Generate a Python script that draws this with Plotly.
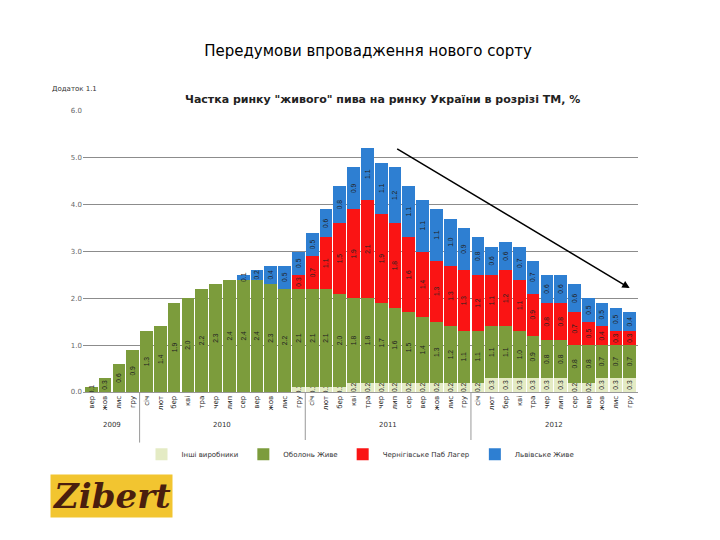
import plotly.graph_objects as go

year_names = ["2009", "2010", "2011", "2012"]
year_lengths = [4, 12, 12, 12]
mon12 = ["січ", "лют", "бер", "кві", "тра", "чер", "лип", "сер", "вер", "жов", "лис", "гру"]
months = ["вер", "жов", "лис", "гру"] + mon12 * 3

other = [0.0, 0.0, 0.0, 0.0,
         0.0, 0.0, 0.0, 0.0, 0.0, 0.0, 0.0, 0.0, 0.0, 0.0, 0.0, 0.1,
         0.1, 0.1, 0.1, 0.2, 0.2, 0.2, 0.2, 0.2, 0.2, 0.2, 0.2, 0.2,
         0.2, 0.3, 0.3, 0.3, 0.3, 0.3, 0.3, 0.2, 0.2, 0.3, 0.3, 0.3]
obolon = [0.1, 0.3, 0.6, 0.9,
          1.3, 1.4, 1.9, 2.0, 2.2, 2.3, 2.4, 2.4, 2.4, 2.3, 2.2, 2.1,
          2.1, 2.1, 2.0, 1.8, 1.8, 1.7, 1.6, 1.5, 1.4, 1.3, 1.2, 1.1,
          1.1, 1.1, 1.1, 1.0, 0.9, 0.8, 0.8, 0.8, 0.8, 0.7, 0.7, 0.7]
cherni = [0, 0, 0, 0,
          0, 0, 0, 0, 0, 0, 0, 0, 0, 0, 0.0, 0.3,
          0.7, 1.1, 1.5, 1.9, 2.1, 1.9, 1.8, 1.6, 1.4, 1.3, 1.3, 1.3,
          1.2, 1.1, 1.2, 1.1, 0.9, 0.8, 0.8, 0.7, 0.5, 0.4, 0.3, 0.3]
lviv = [0, 0, 0, 0,
        0, 0, 0, 0, 0, 0, 0, 0.1, 0.2, 0.4, 0.5, 0.5,
        0.5, 0.6, 0.8, 0.9, 1.1, 1.1, 1.2, 1.1, 1.1, 1.1, 1.0, 0.9,
        0.8, 0.6, 0.6, 0.7, 0.7, 0.6, 0.6, 0.6, 0.5, 0.5, 0.5, 0.4]

series = [
    ("Інші виробники", other, "#e4ebc4"),
    ("Оболонь Живе", obolon, "#7c9c3c"),
    ("Чернігівське Паб Лагер", cherni, "#fa1414"),
    ("Львівське Живе", lviv, "#2e7fd2"),
]

xs = list(range(len(months)))

fig = go.Figure()
for name, vals, col in series:
    fig.add_trace(go.Bar(
        x=xs, y=vals, name=name,
        marker=dict(color=col, line=dict(width=0)),
        texttemplate="%{y:.1f}", textposition="inside", textangle=-90,
        insidetextanchor="middle",
        textfont=dict(size=7, color="#222222", family="Arial"),
    ))

fig.update_layout(
    barmode="stack", bargap=0.08,
    width=720, height=540,
    margin=dict(l=75, r=90, t=103, b=156),
    plot_bgcolor="white", paper_bgcolor="white",
    font=dict(family="DejaVu Sans", size=8, color="#333333"),
    uniformtext=dict(minsize=6, mode="show"),
    legend=dict(orientation="h", x=0.5, xanchor="center", y=-0.17, yanchor="top",
                font=dict(size=7), traceorder="normal"),
    title=dict(text="Передумови впровадження нового сорту", x=0.5, xanchor="center",
               y=0.92, yanchor="middle", font=dict(size=15, color="#000000")),
)
fig.update_yaxes(range=[0, 6], dtick=1, tickformat=".1f", showgrid=True,
                 gridcolor="#8c8c8c", gridwidth=1, zeroline=False,
                 tickfont=dict(size=7, color="#666666"))
fig.update_xaxes(tickmode="array", tickvals=xs, ticktext=months, tickangle=-90,
                 tickfont=dict(size=7, color="#222222"), range=[-0.6, len(xs) - 0.4],
                 showline=True, linecolor="#999999")

# year group labels and dividers
start = 0
for yname, n in zip(year_names, year_lengths):
    fig.add_annotation(text=yname, x=start + (n - 1) / 2, xref="x", y=-0.14, yref="paper",
                       showarrow=False, font=dict(size=7, color="#333333"))
    if start > 0:
        fig.add_shape(type="line", x0=start - 0.5, x1=start - 0.5, xref="x",
                      y0=0, y1=-0.18, yref="paper", line=dict(color="#999999", width=1))
    start += n

fig.add_annotation(text="<b>Частка ринку \"живого\" пива на ринку України в розрізі ТМ, %</b>",
                   xref="paper", yref="paper", x=0.54, y=1.07, showarrow=False,
                   font=dict(size=11, color="#222222"))
fig.add_annotation(text="Додаток 1.1", xref="paper", yref="paper", x=-0.06, y=1.1,
                   xanchor="left", showarrow=False, font=dict(size=7, color="#333333"))
fig.add_annotation(xref="paper", yref="paper", axref="pixel", ayref="pixel",
                   x=0.985, y=0.37, ax=-234, ay=-140, showarrow=True,
                   arrowhead=2, arrowsize=1, arrowwidth=1.5, arrowcolor="#000000", text="")
fig.add_annotation(text="<b><i>Zibert</i></b>", xref="paper", yref="paper", x=-0.06, y=-0.45,
                   xanchor="left", showarrow=False,
                   font=dict(size=34, color="#4a1e0e", family="DejaVu Serif"),
                   bgcolor="#f2c530")

fig.write_html("out.html")
